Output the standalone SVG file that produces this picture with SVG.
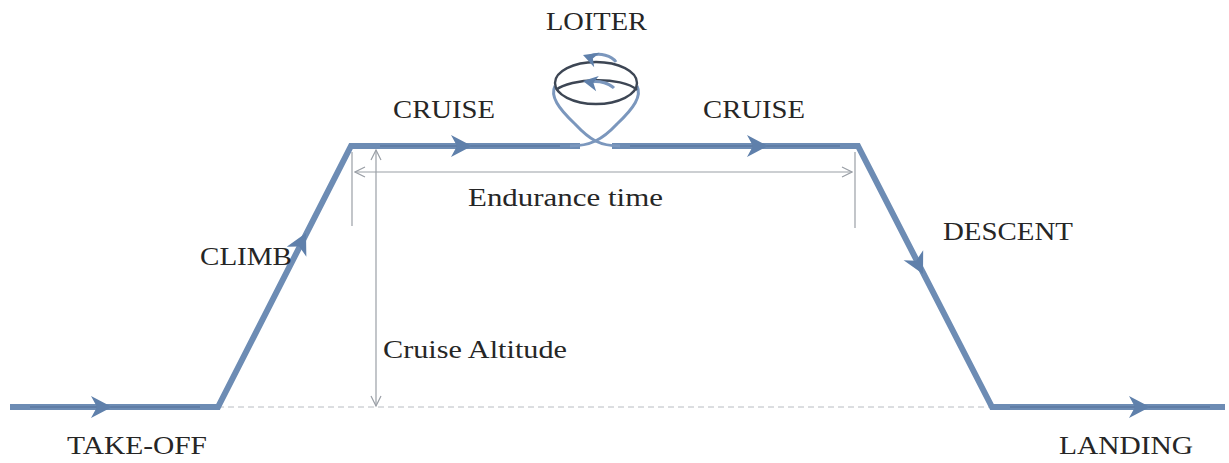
<svg xmlns="http://www.w3.org/2000/svg" width="1229" height="463" viewBox="0 0 1229 463">
  <style>
    .route { fill: none; stroke: #6d8cb4; stroke-width: 6; stroke-linejoin: miter; stroke-linecap: butt; }
    .core { fill: none; stroke: #56739c; stroke-width: 2; opacity: 0.6; }
    .dim { fill: none; stroke: #9a9fa6; stroke-width: 1.2; }
    .base { fill: none; stroke: #b8bcc2; stroke-width: 1; stroke-dasharray: 6 4; }
    .head { fill: #5f80ab; }
    .loop { fill: none; stroke: #7b97bd; stroke-width: 3; }
    .coil { fill: none; stroke: #3d4654; stroke-width: 2.4; }
    .lbl { font-family: "Liberation Serif", "Times New Roman", serif; font-size: 26px; fill: #262626; }
  </style>
  <defs>
    <path id="ah" d="M0,0 L-21,-11 L-15,0 L-21,11 Z"/>
    <marker id="open" viewBox="0 0 12 12" refX="11" refY="6" markerWidth="12" markerHeight="12" markerUnits="userSpaceOnUse" orient="auto-start-reverse">
      <path d="M1,1 L11,6 L1,11" fill="none" stroke="#9a9fa6" stroke-width="1.2"/>
    </marker>
  </defs>

  <!-- ground reference line -->
  <line class="base" x1="218" y1="407" x2="992" y2="407"/>

  <!-- dimension lines -->
  <g id="dimensions">
    <line class="dim" x1="352" y1="152" x2="352" y2="226"/>
    <line class="dim" x1="855" y1="152" x2="855" y2="228"/>
    <line class="dim" x1="355" y1="172" x2="852" y2="172" marker-start="url(#open)" marker-end="url(#open)"/>
    <line class="dim" x1="376" y1="150" x2="376" y2="406" marker-start="url(#open)" marker-end="url(#open)"/>
  </g>

  <!-- flight profile connectors -->
  <g id="connectors">
    <path class="route" d="M10,407 L218,407 L351,146 L580,146"/>
    <path class="route" d="M612,146 L858,146 L992,407 L1225,407"/>
    <path class="core" d="M30,407 L200,407 M380,146 L560,146 M630,146 L840,146 M1010,407 L1210,407"/>
    <use href="#ah" class="head" transform="translate(112,407)"/>
    <use href="#ah" class="head" transform="translate(306,233) rotate(-63.2)"/>
    <use href="#ah" class="head" transform="translate(472,146)"/>
    <use href="#ah" class="head" transform="translate(768,146)"/>
    <use href="#ah" class="head" transform="translate(923,274) rotate(62.8)"/>
    <use href="#ah" class="head" transform="translate(1150,407)"/>
  </g>

  <!-- loiter spiral -->
  <g id="loiter">
    <path class="loop" d="M570,146 C590,146 602,140 617,124 C634,108 642,96 637,86"/>
    <path class="loop" d="M620,146 C600,146 590,140 575,124 C558,108 550,96 555,86"/>
    <ellipse class="coil" cx="596" cy="83" rx="41" ry="21"/>
    <path class="coil" d="M556,90 C570,78 622,76 637,90"/>
    <path class="loop" d="M590,56 C600,52 612,56 616,62"/>
    <path class="loop" d="M590,82 C600,80 610,84 614,88"/>
    <use href="#ah" class="head" transform="translate(583,55) rotate(200) scale(0.7)"/>
    <use href="#ah" class="head" transform="translate(583,81) rotate(190) scale(0.7)"/>
  </g>

  <!-- labels -->
  <g id="labels">
    <text class="lbl" x="546" y="30" textLength="101" lengthAdjust="spacingAndGlyphs">LOITER</text>
    <text class="lbl" x="393" y="118" textLength="102" lengthAdjust="spacingAndGlyphs">CRUISE</text>
    <text class="lbl" x="703" y="118" textLength="102" lengthAdjust="spacingAndGlyphs">CRUISE</text>
    <text class="lbl" x="468" y="206" textLength="195" lengthAdjust="spacingAndGlyphs">Endurance  time</text>
    <text class="lbl" x="200" y="265" textLength="92" lengthAdjust="spacingAndGlyphs">CLIMB</text>
    <text class="lbl" x="943" y="240" textLength="130" lengthAdjust="spacingAndGlyphs">DESCENT</text>
    <text class="lbl" x="383" y="358" textLength="184" lengthAdjust="spacingAndGlyphs">Cruise Altitude</text>
    <text class="lbl" x="67" y="454" textLength="140" lengthAdjust="spacingAndGlyphs">TAKE-OFF</text>
    <text class="lbl" x="1059" y="454" textLength="134" lengthAdjust="spacingAndGlyphs">LANDING</text>
  </g>
</svg>
